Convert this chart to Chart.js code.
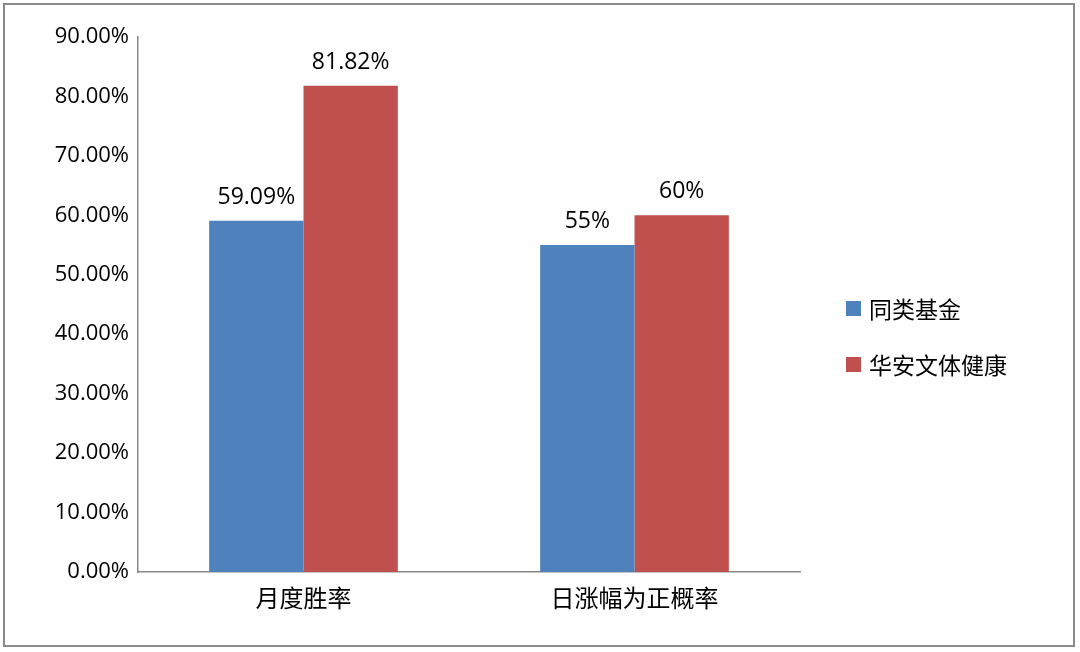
<!DOCTYPE html>
<html><head><meta charset="utf-8">
<script src="https://cdn.jsdelivr.net/npm/chart.js@4/dist/chart.umd.min.js"></script>
<style>
body{margin:0;background:#fff;}
#wrap{position:relative;width:1080px;height:652px;}
#frame{position:absolute;left:3px;top:3px;width:1072px;height:644px;border:2px solid #8a8a8a;box-sizing:border-box;pointer-events:none;}
#legend{position:absolute;left:846px;top:280px;font:23px "Noto Sans CJK SC",sans-serif;color:#000;}
#legend div{height:56px;display:flex;align-items:center;}
#legend span{display:inline-block;width:15px;height:15px;margin-right:8px;}
</style></head>
<body>
<div id="wrap"><canvas id="c" width="1080" height="652"></canvas><div id="legend"></div><div id="frame"></div></div>
<script>
// 数据
const categories = ['月度胜率', '日涨幅为正概率'];
const seriesNames = ['同类基金', '华安文体健康'];
const peerFund = [59.09, 55];
const huaanFund = [81.82, 60];
const peerLabels = ['59.09%', '55%'];
const huaanLabels = ['81.82%', '60%'];
const yMax = 90;
const colors = ['#4f81bd', '#c0504d'];

const FONT = '"Open Sans", "Noto Sans CJK SC", sans-serif';

const barLabels = {
  id: 'barLabels',
  afterDatasetsDraw(chart) {
    const ctx = chart.ctx;
    const texts = [peerLabels, huaanLabels];
    ctx.save();
    ctx.font = '23px ' + FONT;
    ctx.fillStyle = '#000';
    ctx.textAlign = 'center';
    ctx.textBaseline = 'bottom';
    chart.data.datasets.forEach((ds, i) => {
      chart.getDatasetMeta(i).data.forEach((bar, j) => {
        ctx.fillText(texts[i][j], bar.x, bar.y - 12);
      });
    });
    ctx.restore();
  }
};

const chart = new Chart(document.getElementById('c').getContext('2d'), {
  type: 'bar',
  data: {
    labels: categories,
    datasets: [
      { label: seriesNames[0], data: peerFund, backgroundColor: colors[0] },
      { label: seriesNames[1], data: huaanFund, backgroundColor: colors[1] }
    ]
  },
  options: {
    responsive: false,
    animation: false,
    categoryPercentage: 0.57,
    barPercentage: 1,
    layout: { padding: { left: 8, right: 280, top: 37, bottom: 18 } },
    plugins: { legend: { display: false }, tooltip: { enabled: false } },
    scales: {
      y: {
        min: 0, max: yMax,
        ticks: { stepSize: 10, color: '#000', font: { size: 22, family: FONT }, callback: v => v.toFixed(2) + '%' },
        grid: { display: false, drawTicks: true, tickLength: 6 },
        border: { color: '#888', width: 1.5 },
        afterFit(s) { s.width = 130; }
      },
      x: {
        ticks: { color: '#000', font: { size: 24, family: FONT }, padding: 8 },
        grid: { display: false, offset: true, tickLength: 6 },
        border: { color: '#888', width: 1.5 },
        afterFit(s) { s.height = 62; }
      }
    }
  },
  plugins: [barLabels]
});

const lg = document.getElementById('legend');
seriesNames.forEach((n, i) => {
  const d = document.createElement('div');
  d.innerHTML = '<span style="background:' + colors[i] + '"></span>' + n;
  lg.appendChild(d);
});
</script>
</body></html>
